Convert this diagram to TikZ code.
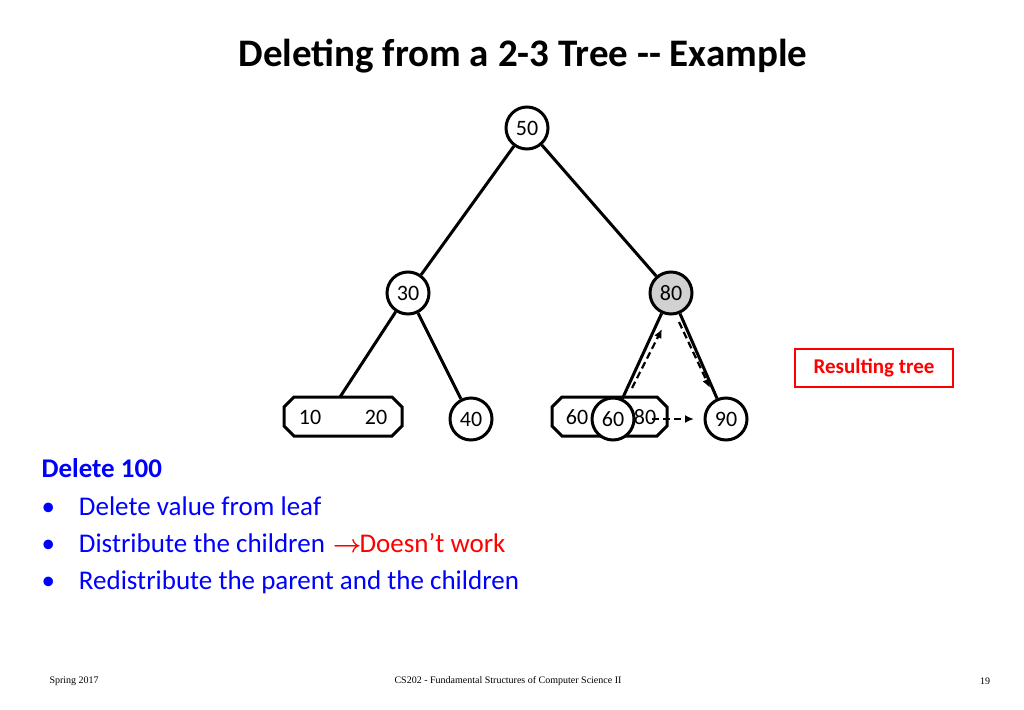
\documentclass[tikz,border=0pt]{standalone}
\usepackage{fontspec}
\usepackage{amsmath}
\usetikzlibrary{arrows.meta}
\setmainfont{Carlito}
\newfontfamily\timesf{Liberation Serif}
\begin{document}
\begin{tikzpicture}[x=1pt,y=-1pt,
  cnode/.style={circle,draw,line width=3pt,minimum size=42pt,inner sep=0pt,fill=white,font=\fontsize{22}{24}\selectfont},
  edge/.style={line width=3pt},
  darr/.style={line width=2.2pt,dash pattern=on 7pt off 4pt,-{Latex[length=9pt,width=8pt]}},
  bl/.style={text=blue,font=\fontsize{27}{30}\selectfont,anchor=west}]
\useasboundingbox (0,0) rectangle (1024,709);
\node[font=\bfseries\fontsize{39}{44}\selectfont] (title) at (523,56) {Deleting from a 2-3 Tree {-}{-} Example};
\node[cnode] (n50) at (527,128) {50};
\node[cnode] (n30) at (408,293) {30};
\node[cnode,fill=black!18] (n80) at (671,293) {80};
\node[cnode] (n40) at (471,419) {40};
\node[cnode] (n90) at (726,419) {90};
% leaf 10 20
\draw[line width=3pt] (294,397) -- (392,397) -- (402,407) -- (402,426) -- (392,436) -- (294,436) -- (284,426) -- (284,407) -- cycle;
\coordinate (l1020) at (340,397);
\node[font=\fontsize{22}{24}\selectfont] (t10) at (310,417) {10};
\node[font=\fontsize{22}{24}\selectfont] (t20) at (376,417) {20};
% octagon 60 80
\draw[line width=3pt] (562,397) -- (657,397) -- (667,407) -- (667,426) -- (657,436) -- (562,436) -- (552,426) -- (552,407) -- cycle;
\node[font=\fontsize{22}{24}\selectfont] (t60) at (577,417) {60};
\node[font=\fontsize{22}{24}\selectfont] (t80) at (645,417) {80};
\draw[edge] (n50) -- (n30);
\draw[edge] (n50) -- (n80);
\draw[edge] (n30) -- (l1020);
\draw[edge] (n30) -- (n40);
\draw[edge] (n80) -- (n90);
\node[cnode] (n60) at (613,419) {60};
\draw[edge] (n80) -- (n60);
\coordinate (a1) at (632,388); \coordinate (a2) at (662,329);
\coordinate (b1) at (679,322); \coordinate (b2) at (710,388);
\coordinate (c1) at (652,419); \coordinate (c2) at (694,419);
\draw[darr] (a1) -- (a2);
\draw[darr] (b1) -- (b2);
\draw[darr] (c1) -- (c2);
\node[draw=red,line width=1.8pt,text=red,font=\bfseries\fontsize{21}{24}\selectfont,minimum width=158pt,minimum height=38pt] (res) at (874,368) {Resulting tree};
\node[text=blue,font=\bfseries\fontsize{27}{30}\selectfont,anchor=west] (del) at (38,468) {Delete 100};
\node[bl] (b1t) at (38,506) {•\hspace{24pt}Delete value from leaf};
\node[bl] (b2t) at (38,543) {•\hspace{24pt}Distribute the children\hspace{8pt}\textcolor{red}{$\boldsymbol{\rightarrow}$\hspace{-2pt}Doesn’t work}};
\node[bl] (b3t) at (38,582) {•\hspace{24pt}Redistribute the parent and the children};
\node[font=\timesf\fontsize{10}{12}\selectfont,anchor=west] (f1) at (46,681) {Spring 2017};
\node[font=\timesf\fontsize{10}{12}\selectfont] (f2) at (508,681) {CS202 - Fundamental Structures of Computer Science II};
\node[font=\timesf\fontsize{10}{12}\selectfont] (f3) at (985,681) {19};
\end{tikzpicture}
\end{document}
